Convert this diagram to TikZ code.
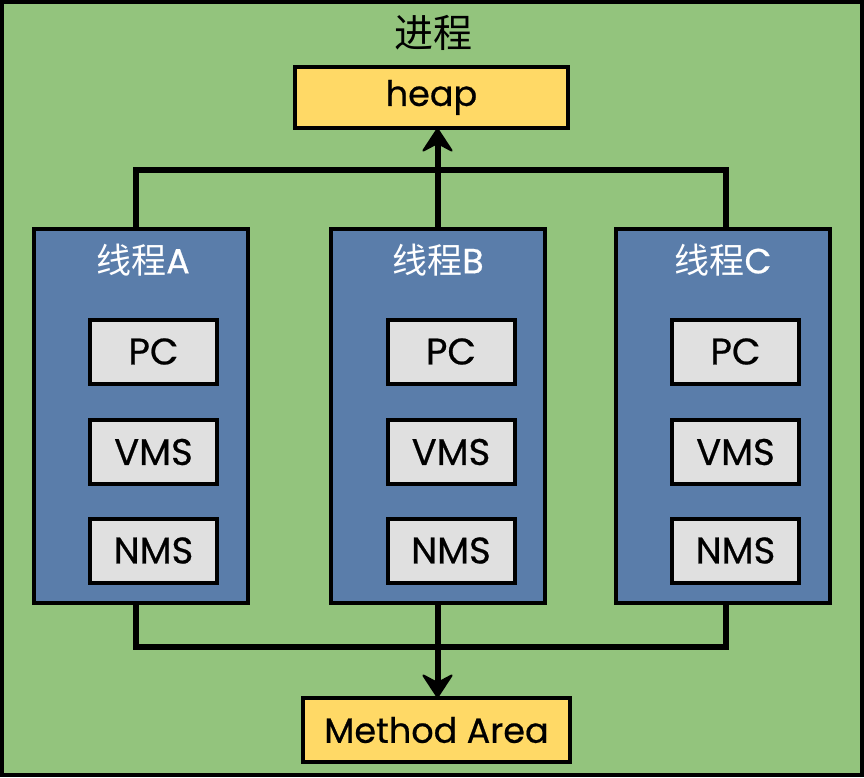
\documentclass[tikz,border=0pt]{standalone}
\usepackage{fontspec}
\setmainfont{Poppins}[FakeBold=0.6]
\newfontfamily\latin{Poppins}[FakeBold=0.6]
\newfontfamily\cjk{Noto Sans CJK SC}
\usetikzlibrary{arrows.meta,calc}
\definecolor{bggreen}{HTML}{93C47D}
\definecolor{thblue}{HTML}{5A7DAA}
\definecolor{boxgray}{HTML}{E0E0E0}
\definecolor{boxyellow}{HTML}{FFD966}
\tikzset{
  memboxstyle/.style={draw=black, line width=4pt, fill=boxyellow, minimum width=273pt, minimum height=61pt, inner sep=0pt, outer sep=0pt, font=\latin\fontsize{35}{40}\selectfont},
  threadbox/.style={draw=black, line width=4pt, fill=thblue, minimum width=214pt, minimum height=374pt, inner sep=0pt, outer sep=0pt},
  innerbox/.style={draw=black, line width=4pt, fill=boxgray, minimum width=127pt, minimum height=64pt, inner sep=0pt, outer sep=0pt, font=\latin\fontsize{37}{40}\selectfont},
  threadtitle/.style={text=white, font=\latin\fontsize{35}{40}\selectfont, inner sep=0pt},
  link/.style={line width=6pt, line join=miter},
  linkarrow/.style={line width=6pt, -{Stealth[length=26pt,width=34pt,inset=9pt,line join=round,line width=2pt]}}
}
\begin{document}
\begin{tikzpicture}[x=1pt,y=-1pt]
\useasboundingbox (0,0) rectangle (864,778);
\draw[line width=4pt, fill=bggreen] (2,2) rectangle (862,775);
\node[inner sep=0pt, font=\cjk\fontsize{39}{42}\selectfont] (title) at (433,33) {进程};
\node[memboxstyle] (heap) at (431.5,97.5) {heap};
\node[memboxstyle, minimum width=267pt, minimum height=64pt] (method) at (436.5,730) {Method Area};
\node[threadbox] (ta) at (141,416) {};
\node[threadbox] (tb) at (437.5,416) {};
\node[threadbox] (tc) at (723,416) {};
\node[threadtitle] (tta) at (143,260) {{\cjk 线程}A};
\node[threadtitle] (ttb) at (438,260) {{\cjk 线程}B};
\node[threadtitle] (ttc) at (723,260) {{\cjk 线程}C};
\foreach \t/\x in {a/153.5,b/451,c/735.5}{
  \node[innerbox] (pc\t) at (\x,351.5) {PC};
  \node[innerbox] (vms\t) at (\x,452) {VMS};
  \node[innerbox] (nms\t) at (\x,550.5) {NMS};
}
\coordinate (topl) at (136,170);
\coordinate (topr) at (726,170);
\coordinate (botl) at (136,647);
\coordinate (botr) at (726,647);
% top connectors
\draw[link] (topl |- ta.north) -- (topl) -- (topr) -- (topr |- tc.north);
\draw[linkarrow] (tb.north) -- (tb.north |- heap.south);
% bottom connectors
\draw[link] (botl |- ta.south) -- (botl) -- (botr) -- (botr |- tc.south);
\draw[linkarrow] (tb.south) -- (tb.south |- method.north);
\end{tikzpicture}
\end{document}
